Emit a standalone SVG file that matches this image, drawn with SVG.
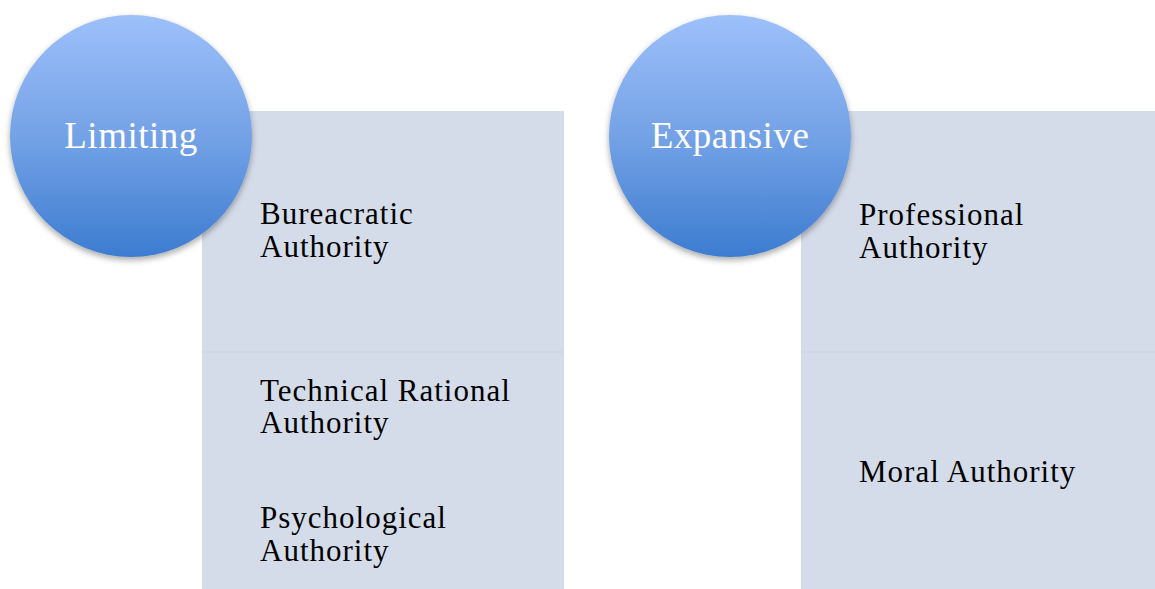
<svg xmlns="http://www.w3.org/2000/svg" width="1155" height="589" viewBox="0 0 1155 589">
<defs>
<linearGradient id="cg" x1="0" y1="0" x2="0" y2="1">
<stop offset="0" stop-color="#9DC0FA"/>
<stop offset="0.5" stop-color="#74A2E6"/>
<stop offset="1" stop-color="#3D7CD0"/>
</linearGradient>
<filter id="sh" x="-20%" y="-20%" width="140%" height="150%">
<feGaussianBlur in="SourceAlpha" stdDeviation="3"/>
<feOffset dx="0" dy="3" result="b"/>
<feComponentTransfer><feFuncA type="linear" slope="0.35"/></feComponentTransfer>
<feMerge><feMergeNode/><feMergeNode in="SourceGraphic"/></feMerge>
</filter>
</defs>
<style>
.box{fill:#D5DCE9}
.div{stroke:#CED6E4;stroke-width:1.5}
.circ{fill:url(#cg);filter:url(#sh)}
.ct{font-family:"Liberation Serif",serif;font-size:37px;fill:#fff;text-anchor:middle;letter-spacing:0.5px}
.t{font-family:"Liberation Serif",serif;font-size:31px;fill:#000;letter-spacing:1px}
</style>
<rect width="1155" height="589" fill="#fff"/>
<g id="connectors"/>
<g id="limiting-box">
<rect class="box" x="202" y="111" width="362" height="478"/>
<line class="div" x1="202" y1="352" x2="564" y2="352"/>
<text class="t" x="260" y="224">Bureacratic</text>
<text class="t" x="260" y="257">Authority</text>
<text class="t" x="260" y="401">Technical Rational</text>
<text class="t" x="260" y="433">Authority</text>
<text class="t" x="260" y="528">Psychological</text>
<text class="t" x="260" y="561">Authority</text>
</g>
<g id="expansive-box">
<rect class="box" x="801" y="111" width="354" height="478"/>
<line class="div" x1="801" y1="352" x2="1155" y2="352"/>
<text class="t" x="859" y="225">Professional</text>
<text class="t" x="859" y="258">Authority</text>
<text class="t" x="859" y="482">Moral Authority</text>
</g>
<g id="limiting">
<circle class="circ" cx="131" cy="136" r="121"/>
<text class="ct" x="131" y="148">Limiting</text>
</g>
<g id="expansive">
<circle class="circ" cx="730" cy="136" r="121"/>
<text class="ct" x="730" y="148">Expansive</text>
</g>
</svg>
